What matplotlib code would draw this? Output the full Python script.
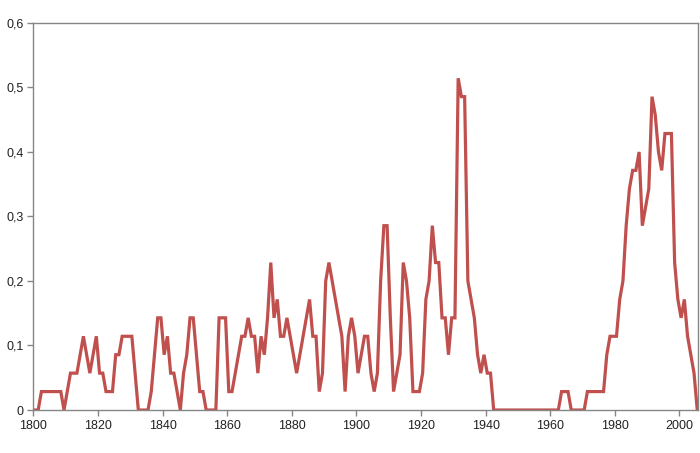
import numpy as np
import matplotlib
matplotlib.use("Agg")
import matplotlib.pyplot as plt
from matplotlib.ticker import FuncFormatter, MultipleLocator

plt.rcParams['font.family'] = ['Liberation Sans', 'DejaVu Sans']

# yearly values in steps of 1/35
years = np.arange(1800, 2006)
counts = [
    0, 0, 1, 1, 1, 1, 1, 1, 1, 0,          # 1800-1809
    1, 2, 2, 2, 3, 4, 3, 2, 3, 4,          # 1810-1819
    2, 2, 1, 1, 1, 3, 3, 4, 4, 4,          # 1820-1829
    4, 2, 0, 0, 0, 0, 1, 3, 5, 5,          # 1830-1839
    3, 4, 2, 2, 1, 0, 2, 3, 5, 5,          # 1840-1849
    3, 1, 1, 0, 0, 0, 0, 5, 5, 5,          # 1850-1859
    1, 1, 2, 3, 4, 4, 5, 4, 4, 2,          # 1860-1869
    4, 3, 5, 8, 5, 6, 4, 4, 5, 4,          # 1870-1879
    3, 2, 3, 4, 5, 6, 4, 4, 1, 2,          # 1880-1889
    7, 8, 7, 6, 5, 4, 1, 4, 5, 4,          # 1890-1899
    2, 3, 4, 4, 2, 1, 2, 7, 10, 10,        # 1900-1909
    5, 1, 2, 3, 8, 7, 5, 1, 1, 1,          # 1910-1919
    2, 6, 7, 10, 8, 8, 5, 5, 3, 5,         # 1920-1929
    5, 18, 17, 17, 7, 6, 5, 3, 2, 3,       # 1930-1939
    2, 2, 0, 0, 0, 0, 0, 0, 0, 0,          # 1940-1949
    0, 0, 0, 0, 0, 0, 0, 0, 0, 0,          # 1950-1959
    0, 0, 0, 1, 1, 1, 0, 0, 0, 0,          # 1960-1969
    0, 1, 1, 1, 1, 1, 1, 3, 4, 4,          # 1970-1979
    4, 6, 7, 10, 12, 13, 13, 14, 10, 11,   # 1980-1989
    12, 17, 16, 14, 13, 15, 15, 15, 8, 6,  # 1990-1999
    5, 6, 4, 3, 2, 0,                      # 2000-2005
]
values = np.array(counts) / 35.0

fig = plt.figure(figsize=(7, 4.53), dpi=100)
ax = fig.add_axes([0.0476, 0.0949, 0.9494, 0.8545])

# points sit in the middle of each year
ax.plot(years + 0.5, values, color='#C0504D', linewidth=2.3, solid_joinstyle='miter')

ax.set_xlim(1800, 2005.7)
ax.set_ylim(0, 0.6)
ax.xaxis.set_major_locator(MultipleLocator(20))
ax.yaxis.set_major_locator(MultipleLocator(0.1))
ax.yaxis.set_major_formatter(FuncFormatter(
    lambda v, p: '0' if abs(v) < 1e-9 else ('%.1f' % v).replace('.', ',')))

for s in ax.spines.values():
    s.set_color('#868686')
    s.set_linewidth(1.0)
ax.tick_params(direction='out', length=4, width=1, color='#868686',
               labelsize=9, labelcolor='#222222', pad=3)

fig.savefig('out.png', dpi=100)
